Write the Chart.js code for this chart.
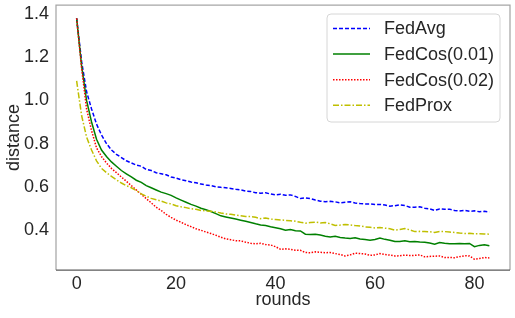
<!DOCTYPE html>
<html>
<head>
<meta charset="utf-8">
<script src="https://cdn.jsdelivr.net/npm/chart.js@4/dist/chart.umd.min.js"></script>
<style>
  html, body { margin: 0; padding: 0; background: #ffffff; }
  canvas { display: block; }
</style>
</head>
<body>
<canvas id="grafico" width="515" height="318"></canvas>
<script>

// x: rounds 0..83
const rounds = Array.from({ length: 84 }, (_, i) => i);

const fedAvg = [
    1.38, 1.18, 1.04, 0.96, 0.89, 0.84, 0.80, 0.77, 0.75, 0.735,
    0.72, 0.71, 0.70, 0.695, 0.68, 0.675, 0.665, 0.66, 0.655, 0.645,
    0.64, 0.632, 0.628, 0.622, 0.618, 0.612, 0.608, 0.605, 0.60, 0.597,
    0.595, 0.592, 0.588, 0.585, 0.58, 0.578, 0.572, 0.57, 0.572, 0.566,
    0.562, 0.565, 0.56, 0.562, 0.555, 0.545, 0.548, 0.545, 0.538, 0.533,
    0.53, 0.532, 0.53, 0.525, 0.528, 0.53, 0.525, 0.522, 0.52, 0.52,
    0.517, 0.518, 0.515, 0.51, 0.512, 0.516, 0.513, 0.505, 0.505, 0.507,
    0.50, 0.497, 0.49, 0.497, 0.495, 0.496, 0.49, 0.487, 0.49, 0.486,
    0.488, 0.484, 0.486, 0.483
];

const fedCos001 = [
    1.38, 1.16, 1.00, 0.90, 0.82, 0.77, 0.74, 0.715, 0.695, 0.675,
    0.66, 0.645, 0.63, 0.62, 0.605, 0.595, 0.585, 0.575, 0.568, 0.56,
    0.548, 0.538, 0.528, 0.518, 0.51, 0.50, 0.493, 0.485, 0.475, 0.465,
    0.46, 0.455, 0.45, 0.445, 0.44, 0.434, 0.428, 0.423, 0.42, 0.414,
    0.41, 0.405, 0.398, 0.402, 0.396, 0.395, 0.38, 0.378, 0.38, 0.376,
    0.37, 0.367, 0.37, 0.365, 0.362, 0.36, 0.363, 0.358, 0.355, 0.352,
    0.355, 0.362, 0.356, 0.352, 0.346, 0.346, 0.35, 0.345, 0.346, 0.344,
    0.343, 0.339, 0.333, 0.341, 0.338, 0.336, 0.336, 0.337, 0.336, 0.337,
    0.322, 0.328, 0.331, 0.326
];

const fedCos002 = [
    1.38, 1.15, 0.96, 0.86, 0.78, 0.74, 0.71, 0.685, 0.665, 0.645,
    0.625, 0.605, 0.585, 0.565, 0.545, 0.525, 0.505, 0.49, 0.472, 0.458,
    0.445, 0.435, 0.424, 0.415, 0.405, 0.398, 0.39, 0.383, 0.375, 0.366,
    0.358, 0.354, 0.35, 0.349, 0.343, 0.338, 0.335, 0.338, 0.332, 0.33,
    0.322, 0.31, 0.312, 0.31, 0.306, 0.305, 0.295, 0.294, 0.298, 0.296,
    0.294, 0.295, 0.29, 0.286, 0.279, 0.284, 0.292, 0.29, 0.288, 0.282,
    0.284, 0.29, 0.286, 0.283, 0.279, 0.28, 0.283, 0.281, 0.282, 0.284,
    0.275, 0.277, 0.278, 0.279, 0.272, 0.272, 0.271, 0.276, 0.28, 0.279,
    0.264, 0.267, 0.272, 0.27
];

const fedProx = [
    1.09, 0.93, 0.83, 0.77, 0.72, 0.685, 0.665, 0.648, 0.632, 0.617,
    0.605, 0.595, 0.582, 0.567, 0.556, 0.546, 0.54, 0.533, 0.525, 0.52,
    0.512, 0.507, 0.503, 0.498, 0.495, 0.49, 0.488, 0.486, 0.483, 0.478,
    0.474, 0.472, 0.468, 0.465, 0.462, 0.462, 0.458, 0.452, 0.455, 0.45,
    0.448, 0.446, 0.444, 0.442, 0.44, 0.435, 0.431, 0.434, 0.436, 0.432,
    0.434, 0.428, 0.42, 0.422, 0.425, 0.423, 0.42, 0.418, 0.414, 0.412,
    0.409, 0.411, 0.408, 0.405, 0.399, 0.402, 0.406, 0.40, 0.392, 0.393,
    0.392, 0.391, 0.388, 0.392, 0.392, 0.39, 0.388, 0.385, 0.383, 0.384,
    0.382, 0.382, 0.381, 0.38
];

const legendas = ["FedAvg", "FedCos(0.01)", "FedCos(0.02)", "FedProx"];
const xTicks = [0, 20, 40, 60, 80];
const yTicks = [0.4, 0.6, 0.8, 1.0, 1.2, 1.4];

const fonte = "'Liberation Sans', Arial, sans-serif";
const corTexto = "#262626";

function pontos(valores) {
    return valores.map((v, i) => ({ x: rounds[i], y: v }));
}

// frame + legend drawn inside the plot like matplotlib
const molduraELegenda = {
    id: "molduraELegenda",
    afterDraw(chart) {
        const ctx = chart.ctx;
        const a = chart.chartArea;

        ctx.save();
        ctx.lineWidth = 1.25;
        ctx.strokeStyle = "#a6a6a6";
        ctx.beginPath();
        ctx.moveTo(a.left, a.bottom);
        ctx.lineTo(a.left, a.top);
        ctx.lineTo(a.right, a.top);
        ctx.lineTo(a.right, a.bottom);
        ctx.stroke();
        ctx.strokeStyle = "#5a5a5a";
        ctx.beginPath();
        ctx.moveTo(a.left, a.bottom);
        ctx.lineTo(a.right, a.bottom);
        ctx.stroke();

        // legend box
        const bx = 327, by = 14, bw = 173, bh = 108;
        ctx.beginPath();
        ctx.roundRect(bx, by, bw, bh, 4);
        ctx.fillStyle = "rgba(255,255,255,0.8)";
        ctx.fill();
        ctx.lineWidth = 1;
        ctx.strokeStyle = "#d6d6d6";
        ctx.stroke();

        ctx.font = "18px " + fonte;
        ctx.textBaseline = "middle";
        ctx.textAlign = "left";

        chart.data.datasets.forEach((ds, i) => {
            const y = 28.5 + i * 25.6;
            ctx.beginPath();
            ctx.setLineDash(ds.borderDash || []);
            ctx.lineWidth = ds.borderWidth;
            ctx.strokeStyle = ds.borderColor;
            ctx.moveTo(333, y);
            ctx.lineTo(370, y);
            ctx.stroke();
            ctx.setLineDash([]);
            ctx.fillStyle = corTexto;
            ctx.fillText(ds.label, 384, y + 1);
        });
        ctx.restore();
    }
};

function semPadding(scale) {
    scale.paddingTop = 0;
    scale.paddingBottom = 0;
    scale.paddingLeft = 0;
    scale.paddingRight = 0;
}

const ctx = document.getElementById("grafico");

new Chart(ctx, {
    type: "line",
    data: {
        datasets: [
            {
                label: legendas[0],
                data: pontos(fedAvg),
                borderColor: "#0000ff",
                borderDash: [4, 2],
                borderWidth: 1.5,
                order: 3
            },
            {
                label: legendas[1],
                data: pontos(fedCos001),
                borderColor: "#008000",
                borderWidth: 1.5,
                order: 2
            },
            {
                label: legendas[2],
                data: pontos(fedCos002),
                borderColor: "#ff0000",
                borderDash: [1.5, 1.5],
                borderWidth: 1.5,
                order: 1
            },
            {
                label: legendas[3],
                data: pontos(fedProx),
                borderColor: "#bfbf00",
                borderDash: [6, 2, 1.5, 2],
                borderWidth: 1.5,
                order: 0
            }
        ]
    },
    plugins: [molduraELegenda],
    options: {
        responsive: false,
        animation: false,
        devicePixelRatio: 1,
        layout: {
            padding: { top: 5, right: 5, left: 0, bottom: 0 }
        },
        elements: {
            point: { radius: 0 },
            line: { tension: 0, fill: false }
        },
        plugins: {
            legend: { display: false },
            tooltip: { enabled: false }
        },
        scales: {
            x: {
                type: "linear",
                min: -4.15,
                max: 87.15,
                afterBuildTicks: scale => {
                    scale.ticks = xTicks.map(v => ({ value: v }));
                },
                afterFit: scale => {
                    scale.height = 48;
                    semPadding(scale);
                },
                grid: { display: false, drawTicks: false },
                border: { display: false },
                ticks: {
                    padding: 3,
                    color: corTexto,
                    font: { size: 18, family: fonte },
                    callback: value => String(value)
                },
                title: {
                    display: true,
                    text: "rounds",
                    color: corTexto,
                    font: { size: 18, family: fonte },
                    padding: { top: 0, bottom: 7 }
                }
            },
            y: {
                type: "linear",
                min: 0.214,
                max: 1.442,
                afterBuildTicks: scale => {
                    scale.ticks = yTicks.map(v => ({ value: v }));
                },
                afterFit: scale => {
                    scale.width = 56;
                    semPadding(scale);
                },
                grid: { display: false, drawTicks: false },
                border: { display: false },
                ticks: {
                    padding: 7,
                    color: corTexto,
                    font: { size: 18, family: fonte },
                    callback: value => value.toFixed(1)
                },
                title: {
                    display: true,
                    text: "distance",
                    color: corTexto,
                    font: { size: 18, family: fonte },
                    padding: { top: 3, bottom: 0 }
                }
            }
        }
    }
});
</script>
</body>
</html>
